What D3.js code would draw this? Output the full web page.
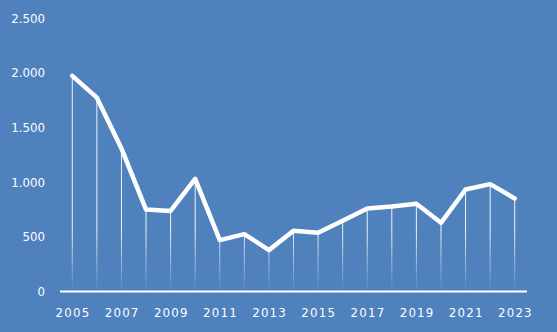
<!DOCTYPE html>
<html>
<head>
<meta charset="utf-8">
<script src="https://cdn.jsdelivr.net/npm/d3@7"></script>
<style>
  html, body { margin: 0; padding: 0; background: #4f81bd; }
  svg { display: block; }
</style>
</head>
<body>
<svg id="chart" width="557" height="332"></svg>
<script>
const years = [2005, 2006, 2007, 2008, 2009, 2010, 2011, 2012, 2013, 2014,
               2015, 2016, 2017, 2018, 2019, 2020, 2021, 2022, 2023];
const values = [1975, 1775, 1310, 750, 738, 1032, 471, 526, 379, 556,
                538, 647, 760, 778, 803, 629, 934, 983, 852];
const yTicks = [0, 500, 1000, 1500, 2000, 2500];
const xTickYears = [2005, 2007, 2009, 2011, 2013, 2015, 2017, 2019, 2021, 2023];

const svg = d3.select("#chart");
const width = 557, height = 332;
const margin = { top: 18, right: 30, bottom: 40, left: 60 };

svg.append("rect")
  .attr("width", width).attr("height", height)
  .attr("fill", "#4f81bd");

// scales
const x = d3.scaleBand()
  .domain(years)
  .range([margin.left, width - margin.right]);
const y = d3.scaleLinear()
  .domain([0, 2500])
  .range([291.5, 18.5]);

const cx = d => x(d) + x.bandwidth() / 2;
const data = years.map((yr, i) => ({ year: yr, value: values[i] }));

// fading drop lines
const defs = svg.append("defs");
const grad = defs.append("linearGradient")
  .attr("id", "fade")
  .attr("gradientUnits", "userSpaceOnUse")
  .attr("x1", 0).attr("x2", 0)
  .attr("y1", y(0) - 60).attr("y2", y(0));
grad.append("stop").attr("offset", "0%").attr("stop-color", "#fff").attr("stop-opacity", 0.9);
grad.append("stop").attr("offset", "100%").attr("stop-color", "#fff").attr("stop-opacity", 0);

svg.append("g")
  .selectAll("rect")
  .data(data)
  .enter().append("rect")
  .attr("x", d => cx(d.year) - 0.5)
  .attr("y", d => y(d.value))
  .attr("width", 1)
  .attr("height", d => y(0) - y(d.value))
  .attr("fill", "url(#fade)");

const font = "DejaVu Sans, Verdana, sans-serif";

// y labels
svg.append("g")
  .selectAll("text")
  .data(yTicks)
  .enter().append("text")
  .attr("x", 45)
  .attr("y", d => y(d))
  .attr("dy", "0.36em")
  .attr("text-anchor", "end")
  .attr("fill", "#fff")
  .attr("font-family", font)
  .attr("font-size", 11.8)
  .text(d => d3.format(",")(d).replace(/,/g, "."));

// x axis line
svg.append("line")
  .attr("x1", x.range()[0]).attr("x2", x.range()[1])
  .attr("y1", y(0)).attr("y2", y(0))
  .attr("stroke", "#fff")
  .attr("stroke-width", 2);

// x labels
svg.append("g")
  .selectAll("text")
  .data(xTickYears)
  .enter().append("text")
  .attr("x", d => cx(d) + 0.7)
  .attr("y", 316.5)
  .attr("text-anchor", "middle")
  .attr("fill", "#fff")
  .attr("font-family", font)
  .attr("font-size", 11.8)
  .attr("letter-spacing", 1.2)
  .text(d => d);

// main line
const line = d3.line()
  .x(d => cx(d.year))
  .y(d => y(d.value));

svg.append("path")
  .datum(data)
  .attr("d", line)
  .attr("fill", "none")
  .attr("stroke", "#fff")
  .attr("stroke-width", 4.5)
  .attr("stroke-linejoin", "round")
  .attr("stroke-linecap", "round");
</script>
</body>
</html>
